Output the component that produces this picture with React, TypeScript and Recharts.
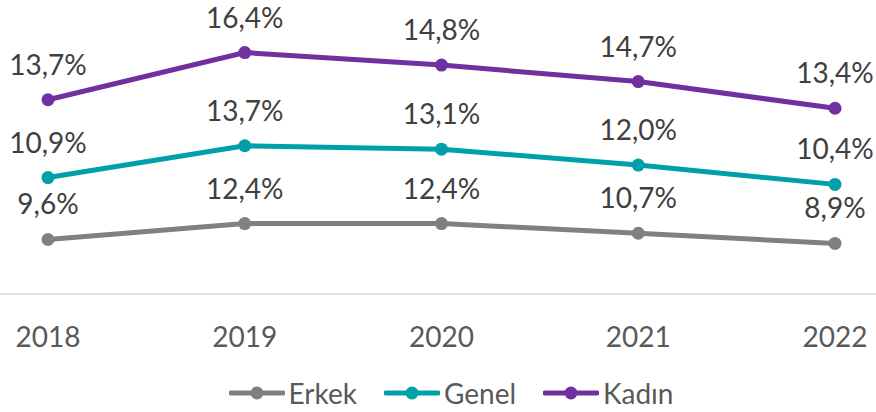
import React from "react"
import { AreaChart, Area, XAxis, YAxis, Legend } from "recharts"

const years = ["2018", "2019", "2020", "2021", "2022"]
const erkek = [9.6, 12.4, 12.4, 10.7, 8.9]
const genel = [10.9, 13.7, 13.1, 12.0, 10.4]
const kadin = [13.7, 16.4, 14.8, 14.7, 13.4]

const FONT = "Lato, 'Open Sans', sans-serif"

const series = [
  { key: "erkek", name: "Erkek", color: "#808080", values: erkek },
  { key: "genel", name: "Genel", color: "#00A0A8", values: genel },
  { key: "kadin", name: "Kadın", color: "#7030A0", values: kadin },
]

const data = years.map((year, i) => ({
  year,
  erkek: erkek[i],
  genel: genel[i],
  kadin: kadin[i],
}))

const fmt = (v: number) => v.toFixed(1).replace(".", ",") + "%"

const makeLabel = (values: number[]) => (props: any) => {
  const { x, y, index } = props
  return (
    <text
      key={`l-${index}`}
      x={x}
      y={y - 36}
      textAnchor="middle"
      dominantBaseline="central"
      fill="#404040"
      fontSize={28}
      fontFamily={FONT}
    >
      {fmt(values[index])}
    </text>
  )
}

const makeDot = (color: string) => (props: any) => {
  const { cx, cy, index } = props
  return <circle key={`d-${index}`} cx={cx} cy={cy} r={6.5} fill={color} />
}

function LegendContent() {
  return (
    <div
      style={{
        height: 44,
        boxSizing: "border-box",
        paddingTop: 8,
        display: "flex",
        justifyContent: "center",
        gap: 27,
        paddingLeft: 26,
        fontFamily: FONT,
        fontSize: 28,
        color: "#595959",
      }}
    >
      {series.map((s) => (
        <div key={s.key} style={{ display: "flex", alignItems: "center", gap: 4, height: 34 }}>
          <svg width={56} height={14}>
            <line x1={2} y1={7} x2={54} y2={7} stroke={s.color} strokeWidth={5} strokeLinecap="round" />
            <circle cx={28} cy={7} r={6.5} fill={s.color} />
          </svg>
          <span style={{ lineHeight: "34px" }}>{s.name}</span>
        </div>
      ))}
    </div>
  )
}

export default function App() {
  return (
    <div style={{ position: "absolute", left: 0, top: 0, background: "#fff" }}>
      <AreaChart
        width={876}
        height={412}
        data={data}
        margin={{ top: 10, right: 0, bottom: 0, left: 0 }}
      >
        <XAxis
          dataKey="year"
          height={74}
          padding={{ left: 48, right: 41 }}
          tickLine={false}
          tickSize={0}
          tickMargin={33}
          axisLine={{ stroke: "#D9D9D9", strokeWidth: 1.5 }}
          tick={{ fill: "#595959", fontSize: 28, fontFamily: FONT }}
          interval={0}
        />
        <YAxis hide domain={[0, 50]} />
        <Legend verticalAlign="bottom" height={44} content={() => <LegendContent />} />
        {series.map((s) => (
          <Area
            key={s.key}
            type="linear"
            dataKey={s.key}
            name={s.name}
            stackId="1"
            stroke={s.color}
            strokeWidth={5}
            fill="none"
            fillOpacity={0}
            dot={makeDot(s.color)}
            activeDot={false}
            label={makeLabel(s.values)}
            isAnimationActive={false}
          />
        ))}
      </AreaChart>
    </div>
  )
}
